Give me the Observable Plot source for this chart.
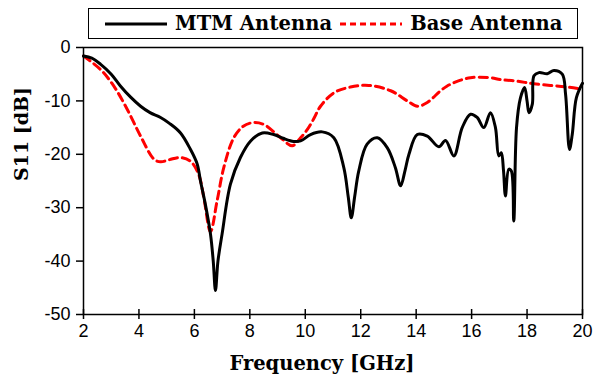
<!DOCTYPE html>
<html><head><meta charset="utf-8">
<script src="https://cdn.jsdelivr.net/npm/d3@7"></script>
<script src="https://cdn.jsdelivr.net/npm/@observablehq/plot@0.6"></script>
<style>
body{margin:0;background:#fff}
#wrap{position:relative;width:597px;height:381px}
#legend{position:absolute;left:88px;top:8px;width:490px;height:31px;border:1.5px solid #000;box-sizing:border-box;display:flex;align-items:center;font:bold 19.5px "DejaVu Serif",serif;background:#fff;padding-left:16px;white-space:nowrap;overflow:hidden}
#legend span{margin-right:8px;letter-spacing:0.1px;flex-shrink:0}
#legend svg{margin-right:8px;flex-shrink:0}
</style></head><body><div id="wrap"><div id="legend"></div></div>
<script>
const seriesNames = ["MTM Antenna", "Base Antenna"];
const seriesColors = ["#000000", "#ff0000"];
const xTicks = [2, 4, 6, 8, 10, 12, 14, 16, 18, 20];
const yTicks = [-50, -40, -30, -20, -10, 0];

const mtmFreq = [2.0,2.3,2.61,3.0,3.33,3.7,4.06,4.4,4.78,5.1,5.5,5.85,6.1,6.22,6.4,6.58,6.68,6.76,6.85,7.0,7.3,7.66,8.03,8.45,8.86,9.2,9.58,9.83,10.19,10.61,11.03,11.39,11.55,11.66,11.78,11.93,12.23,12.6,12.96,13.25,13.44,13.6,13.74,14.04,14.4,14.82,15.06,15.36,15.66,15.96,16.2,16.44,16.68,16.86,16.98,17.07,17.15,17.22,17.34,17.43,17.52,17.62,17.76,17.91,18.0,18.07,18.19,18.25,18.43,18.73,18.97,19.27,19.39,19.53,19.63,19.78,20.0];
const mtmS11 = [-1.6,-2.0,-3.1,-5.0,-7.2,-9.3,-11.0,-12.2,-13.1,-14.2,-16.0,-19.0,-21.8,-25.0,-29.5,-34.9,-40.0,-45.5,-40.0,-34.9,-25.6,-20.6,-17.5,-16.0,-16.3,-17.0,-17.6,-17.5,-16.3,-15.8,-16.9,-22.5,-28.0,-31.9,-28.0,-23.1,-18.1,-16.9,-18.8,-22.5,-25.9,-23.0,-20.0,-16.3,-16.6,-18.6,-17.4,-20.3,-15.0,-12.5,-13.1,-15.0,-12.2,-15.0,-20.3,-19.7,-23.0,-27.8,-22.8,-23.1,-32.5,-15.0,-9.5,-7.5,-10.0,-12.2,-10.6,-5.3,-4.7,-4.9,-4.3,-5.0,-8.8,-19.1,-16.3,-9.4,-6.7];

const baseFreq = [2.0,2.61,3.09,3.58,4.06,4.54,4.78,5.1,5.5,5.86,6.15,6.34,6.58,6.82,7.06,7.42,7.75,8.08,8.5,9.11,9.53,9.83,10.07,10.3,10.55,11.03,11.63,12.29,13.08,13.68,14.04,14.4,14.88,15.12,15.5,15.96,16.68,17.04,17.64,18.25,19.45,20.0];
const baseS11 = [-1.6,-4.1,-7.2,-11.6,-16.6,-20.9,-21.4,-21.0,-20.6,-21.3,-23.7,-28.1,-34.5,-28.7,-22.5,-16.9,-14.8,-14.1,-14.4,-16.9,-18.4,-16.9,-15.4,-13.4,-11.0,-8.5,-7.4,-7.1,-8.1,-10.0,-11.0,-10.3,-8.1,-7.2,-6.3,-5.65,-5.65,-6.0,-6.3,-6.8,-7.4,-7.8];

const mtm = mtmFreq.map((f, i) => ({f, s: mtmS11[i]}));
const base = baseFreq.map((f, i) => ({f, s: baseS11[i]}));

const tickFont = {fontFamily: '"Liberation Sans", Arial, sans-serif', fontSize: 18, fill: "#000"};

const chart = Plot.plot({
  width: 597, height: 381,
  marginTop: 47, marginLeft: 83, marginRight: 15, marginBottom: 67,
  style: {background: "#fff", color: "#000", overflow: "visible"},
  x: {domain: [2, 20], ticks: xTicks},
  y: {domain: [-50, 0], ticks: yTicks},
  marks: [
    Plot.lineY(base, {x: "f", y: "s", stroke: seriesColors[1], strokeWidth: 3, strokeDasharray: "8,5", curve: "catmull-rom"}),
    Plot.lineY(mtm, {x: "f", y: "s", stroke: seriesColors[0], strokeWidth: 3, curve: "catmull-rom"}),
    Plot.frame({stroke: "#000", strokeWidth: 1.5}),
    Plot.axisX({ticks: xTicks, tickSize: 5, tickPadding: 5, tickFormat: d => String(d), label: null, ...tickFont}),
    Plot.ruleX(xTicks, {x: d => d, y1: -50, y2: -50, insetTop: -5, stroke: "#000", strokeWidth: 1.5}),
    Plot.axisY({ticks: yTicks, tickSize: 7, tickPadding: 6, tickFormat: d => String(d), label: null, ...tickFont}),
    Plot.text(["Frequency [GHz]"], {frameAnchor: "bottom", dx: -11, dy: 55, text: d => d, fontFamily: '"DejaVu Serif", serif', fontWeight: "bold", fontSize: 19.5, fill: "#000"}),
    Plot.text(["S11 [dB]"], {frameAnchor: "left", dx: -62, rotate: -90, text: d => d, fontFamily: '"DejaVu Serif", serif', fontWeight: "bold", fontSize: 19, fill: "#000"})
  ]
});
chart.querySelectorAll('[aria-label="x-axis tick"] path, [aria-label="y-axis tick"] path').forEach(p => p.setAttribute("stroke-width", "1.5"));
document.getElementById("wrap").prepend(chart);

const legend = document.getElementById("legend");
seriesNames.forEach((name, i) => {
  const ns = "http://www.w3.org/2000/svg";
  const s = document.createElementNS(ns, "svg");
  s.setAttribute("width", "62"); s.setAttribute("height", "10");
  const l = document.createElementNS(ns, "line");
  l.setAttribute("x1", "0"); l.setAttribute("x2", "62"); l.setAttribute("y1", "5"); l.setAttribute("y2", "5");
  l.setAttribute("stroke", seriesColors[i]); l.setAttribute("stroke-width", "3");
  if (i === 1) l.setAttribute("stroke-dasharray", "6,4");
  s.appendChild(l);
  legend.appendChild(s);
  const t = document.createElement("span"); t.textContent = name; legend.appendChild(t);
});
</script></body></html>
